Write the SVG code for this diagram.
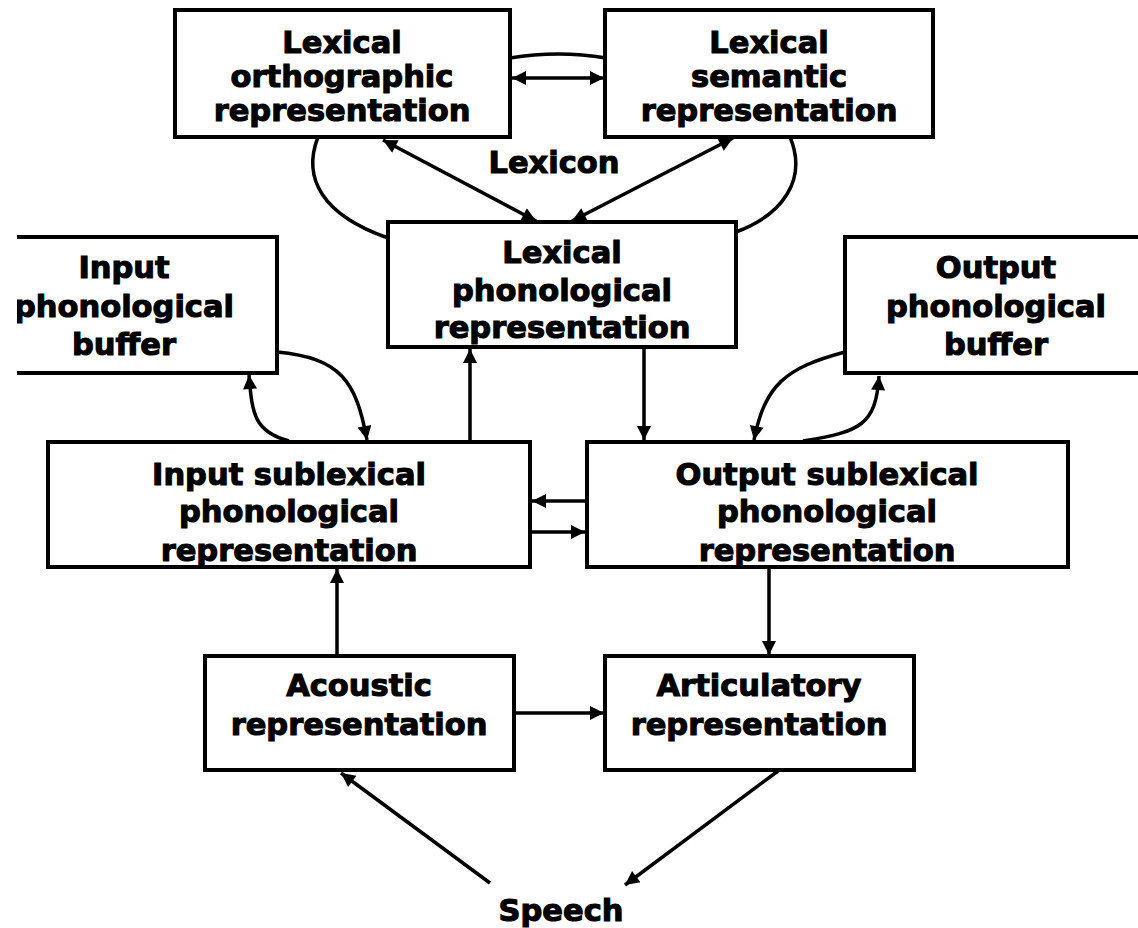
<svg xmlns="http://www.w3.org/2000/svg" width="1138" height="928" viewBox="0 0 1138 928">
<style>
.box{fill:#fff;stroke:#000;stroke-width:4}
.t{font-family:"DejaVu Sans","Liberation Sans",sans-serif;font-weight:bold;font-size:30.5px;text-anchor:middle;fill:#000;stroke:#000;stroke-width:1.1}
.c{fill:none;stroke:#000;stroke-width:3.5}
</style>
<defs>
<marker id="ah" viewBox="0 0 10 10" refX="10" refY="5" markerWidth="16" markerHeight="14" markerUnits="userSpaceOnUse" orient="auto-start-reverse"><path d="M0,0 L10,5 L0,10 z" fill="#000"/></marker>
<clipPath id="clipL"><rect x="17" y="0" width="1121" height="928"/></clipPath>
</defs>
<rect width="1138" height="928" fill="#fff"/>
<g id="connectors">
<path class="c" d="M510,58 Q558,50 606,58"/>
<path class="c" d="M512,78 L604,78" marker-start="url(#ah)" marker-end="url(#ah)"/>
<path class="c" d="M318,137 C302,178 322,215 388,238"/>
<path class="c" d="M790,137 C808,180 782,215 736,232"/>
<path class="c" d="M383,140 L536,221" marker-start="url(#ah)" marker-end="url(#ah)"/>
<path class="c" d="M733,138 L572,221" marker-start="url(#ah)" marker-end="url(#ah)"/>
<path class="c" d="M277,352 C340,358 356,380 367,440" marker-end="url(#ah)"/>
<path class="c" d="M289,441 C255,432 252,415 249,375" marker-end="url(#ah)"/>
<path class="c" d="M845,352 C785,368 765,385 754,440" marker-end="url(#ah)"/>
<path class="c" d="M803,441 C860,432 876,425 879,376" marker-end="url(#ah)"/>
<path class="c" d="M470,442 L470,349" marker-end="url(#ah)"/>
<path class="c" d="M644,347 L644,440" marker-end="url(#ah)"/>
<path class="c" d="M587,501 L532,501" marker-end="url(#ah)"/>
<path class="c" d="M530,532 L585,532" marker-end="url(#ah)"/>
<path class="c" d="M337,655 L337,569" marker-end="url(#ah)"/>
<path class="c" d="M514,713 L604,713" marker-end="url(#ah)"/>
<path class="c" d="M769,568 L769,655" marker-end="url(#ah)"/>
<path class="c" d="M490,883 L341,773" marker-end="url(#ah)"/>
<path class="c" d="M778,771 L625,885" marker-end="url(#ah)"/>
</g>
<g id="lexorth">
<rect class="box" x="175" y="10" width="335" height="127"/>
<text class="t" x="342" y="53">Lexical</text>
<text class="t" x="342" y="87">orthographic</text>
<text class="t" x="342" y="121">representation</text>
</g>
<g id="lexsem">
<rect class="box" x="605" y="10" width="328" height="127"/>
<text class="t" x="769" y="53">Lexical</text>
<text class="t" x="769" y="87">semantic</text>
<text class="t" x="769" y="121">representation</text>
</g>
<g id="lexicon">
<text class="t" x="554" y="173">Lexicon</text>
</g>
<g id="lexphon">
<rect class="box" x="388" y="222" width="348" height="125"/>
<text class="t" x="562" y="263">Lexical</text>
<text class="t" x="562" y="301">phonological</text>
<text class="t" x="562" y="338">representation</text>
</g>
<g id="inbuf" clip-path="url(#clipL)">
<rect class="box" x="-10" y="237" width="287" height="136"/>
<text class="t" x="124" y="278">Input</text>
<text class="t" x="124" y="317">phonological</text>
<text class="t" x="124" y="355">buffer</text>
</g>
<g id="outbuf">
<rect class="box" x="845" y="237" width="310" height="136"/>
<text class="t" x="996" y="278">Output</text>
<text class="t" x="996" y="317">phonological</text>
<text class="t" x="996" y="355">buffer</text>
</g>
<g id="insub">
<rect class="box" x="48" y="442" width="482" height="125"/>
<text class="t" x="289" y="485">Input sublexical</text>
<text class="t" x="289" y="522">phonological</text>
<text class="t" x="289" y="561">representation</text>
</g>
<g id="outsub">
<rect class="box" x="587" y="442" width="481" height="125"/>
<text class="t" x="827" y="485">Output sublexical</text>
<text class="t" x="827" y="522">phonological</text>
<text class="t" x="827" y="561">representation</text>
</g>
<g id="acoustic">
<rect class="box" x="205" y="656" width="309" height="114"/>
<text class="t" x="359" y="696">Acoustic</text>
<text class="t" x="359" y="735">representation</text>
</g>
<g id="articulatory">
<rect class="box" x="605" y="656" width="309" height="114"/>
<text class="t" x="759" y="696">Articulatory</text>
<text class="t" x="759" y="735">representation</text>
</g>
<g id="speech">
<text class="t" x="561" y="921">Speech</text>
</g>
</svg>
